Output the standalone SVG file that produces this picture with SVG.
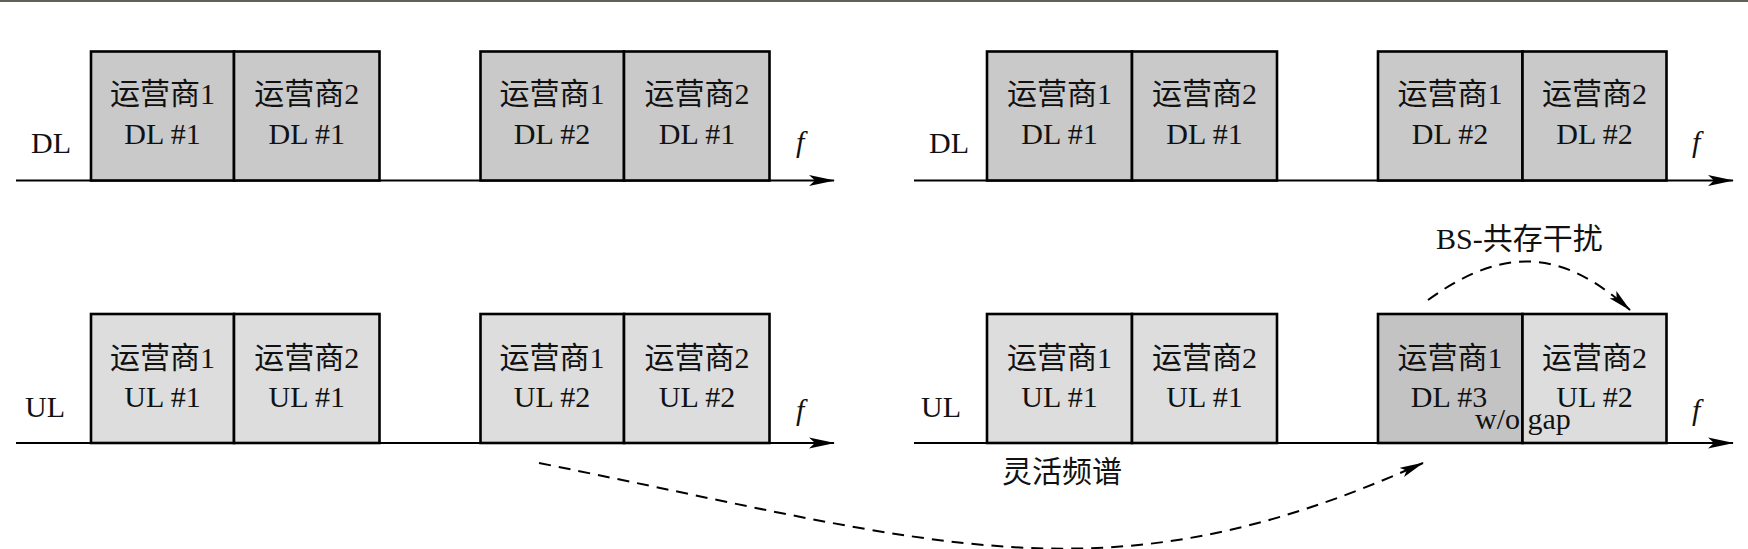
<svg xmlns="http://www.w3.org/2000/svg" width="1748" height="549" viewBox="0 0 1748 549">
<style>
.t{font-family:"Liberation Serif","Noto Sans CJK SC",serif;font-size:30px;fill:#111;}
.m{text-anchor:middle;}
.i{font-style:italic;}
.dl{fill:#c9c9c9;stroke:#000;stroke-width:2.6;}
.ul{fill:#dddddd;stroke:#000;stroke-width:2.6;}
.dk{fill:#c3c3c3;stroke:#000;stroke-width:2.6;}
.ax{stroke:#000;stroke-width:2.2;fill:none;marker-end:url(#ah);}
.ds{stroke:#000;stroke-width:2;fill:none;stroke-dasharray:12 8;marker-end:url(#dh);}
</style>
<defs>
<marker id="ah" viewBox="0 0 26 12" refX="25" refY="6" markerWidth="26" markerHeight="12" markerUnits="userSpaceOnUse" orient="auto">
<path d="M0,0.5 L26,6 L0,11.5 L6,6 Z" fill="#000"/>
</marker>
<marker id="dh" viewBox="0 0 24 11" refX="23" refY="5.5" markerWidth="24" markerHeight="11" markerUnits="userSpaceOnUse" orient="auto">
<path d="M0,0.5 L24,5.5 L0,10.5 L5,5.5 Z" fill="#000"/>
</marker>
</defs>
<rect x="0" y="0" width="1748" height="549" fill="#fff"/>
<rect x="0" y="0" width="1748" height="2" fill="#5e6258"/>

<g id="connectors">
<line class="ax" x1="16" y1="180.5" x2="834" y2="180.5"/>
<line class="ax" x1="914" y1="180.5" x2="1733" y2="180.5"/>
<line class="ax" x1="16" y1="443" x2="834" y2="443"/>
<line class="ax" x1="914" y1="443" x2="1733" y2="443"/>
<path class="ds" d="M539,463 C939,543 1103,607 1423,463"/>
<path class="ds" d="M1428,300 C1508,242 1567,253 1630,310"/>
</g>

<g id="labels">
<text class="t" x="31" y="153">DL</text>
<text class="t" x="929" y="153">DL</text>
<text class="t" x="25" y="416.5">UL</text>
<text class="t" x="921" y="416.5">UL</text>
<text class="t i" x="796" y="151.5">f</text>
<text class="t i" x="1692" y="151.5">f</text>
<text class="t i" x="796" y="420">f</text>
<text class="t i" x="1692" y="420">f</text>
<text class="t m" x="1062" y="482">灵活频谱</text>
<text class="t" x="1436" y="249">BS-共存干扰</text>
</g>

<g id="dl-left-op1-dl1">
<rect class="dl" x="91" y="51.5" width="143" height="129"/>
<text class="t m" x="162.5" y="104">运营商1</text>
<text class="t m" x="162.5" y="143.5">DL #1</text>
</g>
<g id="dl-left-op2-dl1">
<rect class="dl" x="234" y="51.5" width="145.5" height="129"/>
<text class="t m" x="306.8" y="104">运营商2</text>
<text class="t m" x="306.8" y="143.5">DL #1</text>
</g>
<g id="dl-left-op1-dl2">
<rect class="dl" x="480.5" y="51.5" width="143.5" height="129"/>
<text class="t m" x="552" y="104">运营商1</text>
<text class="t m" x="552" y="143.5">DL #2</text>
</g>
<g id="dl-left-op2-dl1b">
<rect class="dl" x="624" y="51.5" width="145.5" height="129"/>
<text class="t m" x="697" y="104">运营商2</text>
<text class="t m" x="697" y="143.5">DL #1</text>
</g>

<g id="dl-right-op1-dl1">
<rect class="dl" x="987" y="51.5" width="145" height="129"/>
<text class="t m" x="1059.5" y="104">运营商1</text>
<text class="t m" x="1059.5" y="143.5">DL #1</text>
</g>
<g id="dl-right-op2-dl1">
<rect class="dl" x="1132" y="51.5" width="145" height="129"/>
<text class="t m" x="1204.5" y="104">运营商2</text>
<text class="t m" x="1204.5" y="143.5">DL #1</text>
</g>
<g id="dl-right-op1-dl2">
<rect class="dl" x="1378" y="51.5" width="144.5" height="129"/>
<text class="t m" x="1450" y="104">运营商1</text>
<text class="t m" x="1450" y="143.5">DL #2</text>
</g>
<g id="dl-right-op2-dl2">
<rect class="dl" x="1522.5" y="51.5" width="144" height="129"/>
<text class="t m" x="1594.5" y="104">运营商2</text>
<text class="t m" x="1594.5" y="143.5">DL #2</text>
</g>

<g id="ul-left-op1-ul1">
<rect class="ul" x="91" y="314" width="143" height="129"/>
<text class="t m" x="162.5" y="367.5">运营商1</text>
<text class="t m" x="162.5" y="406.5">UL #1</text>
</g>
<g id="ul-left-op2-ul1">
<rect class="ul" x="234" y="314" width="145.5" height="129"/>
<text class="t m" x="306.8" y="367.5">运营商2</text>
<text class="t m" x="306.8" y="406.5">UL #1</text>
</g>
<g id="ul-left-op1-ul2">
<rect class="ul" x="480.5" y="314" width="143.5" height="129"/>
<text class="t m" x="552" y="367.5">运营商1</text>
<text class="t m" x="552" y="406.5">UL #2</text>
</g>
<g id="ul-left-op2-ul2">
<rect class="ul" x="624" y="314" width="145.5" height="129"/>
<text class="t m" x="697" y="367.5">运营商2</text>
<text class="t m" x="697" y="406.5">UL #2</text>
</g>

<g id="ul-right-op1-ul1">
<rect class="ul" x="987" y="314" width="145" height="129"/>
<text class="t m" x="1059.5" y="367.5">运营商1</text>
<text class="t m" x="1059.5" y="406.5">UL #1</text>
</g>
<g id="ul-right-op2-ul1">
<rect class="ul" x="1132" y="314" width="145" height="129"/>
<text class="t m" x="1204.5" y="367.5">运营商2</text>
<text class="t m" x="1204.5" y="406.5">UL #1</text>
</g>
<g id="ul-right-op1-dl3">
<rect class="dk" x="1378" y="314" width="144.5" height="129"/>
<text class="t m" x="1450" y="367.5">运营商1</text>
<text class="t m" x="1449" y="406.5">DL #3</text>
</g>
<g id="ul-right-op2-ul2">
<rect class="ul" x="1522.5" y="314" width="144" height="129"/>
<text class="t m" x="1594.5" y="367.5">运营商2</text>
<text class="t m" x="1594.5" y="406.5">UL #2</text>
</g>
<g id="wo-gap">
<text class="t" x="1475" y="429">w/o gap</text>
</g>
</svg>
